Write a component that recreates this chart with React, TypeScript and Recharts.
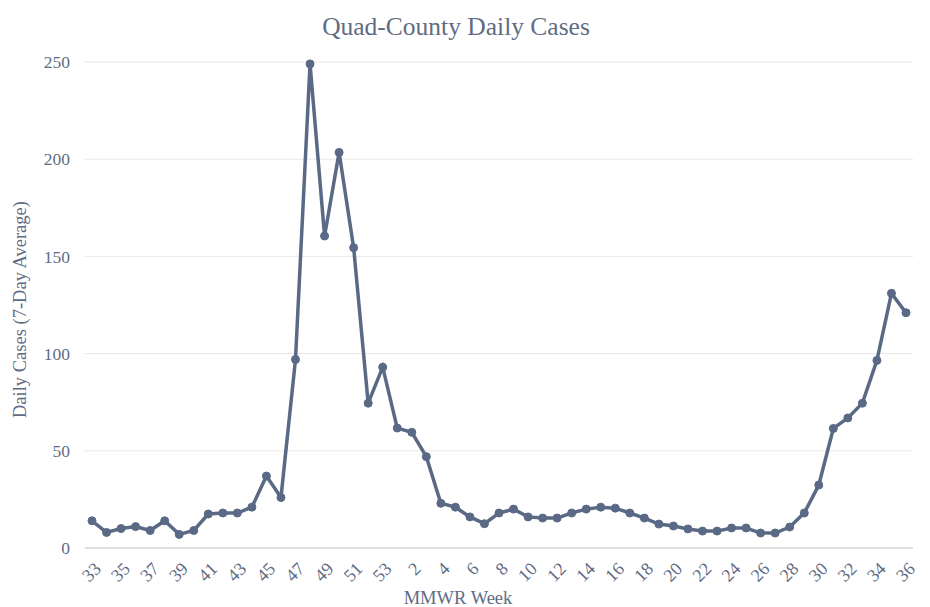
import React from 'react';
import { LineChart, Line, XAxis, YAxis, CartesianGrid } from 'recharts';

const weeks = [
  '33', '34', '35', '36', '37', '38', '39', '40', '41', '42', '43', '44', '45', '46', '47', '48', '49', '50', '51', '52', '53',
  '1', '2', '3', '4', '5', '6', '7', '8', '9', '10', '11', '12', '13', '14', '15', '16', '17', '18', '19', '20',
  '21', '22', '23', '24', '25', '26', '27', '28', '29', '30', '31', '32', '33', '34', '35', '36',
];

const cases = [
  14, 8, 10, 11, 9, 14, 7, 9, 17.5, 18, 18, 21, 37, 26, 97, 249, 160.5, 203.5, 154.5, 74.5, 93,
  61.7, 59.5, 47, 23, 21, 16, 12.5, 18, 20, 16, 15.4, 15.4, 18, 20, 21, 20.5, 18, 15.4, 12.3, 11.3,
  9.8, 8.7, 8.7, 10.3, 10.3, 7.7, 7.7, 10.8, 18, 32.4, 61.5, 66.9, 74.5, 96.5, 131, 121,
];

const yTicks = [0, 50, 100, 150, 200, 250];

const data = weeks.map((w, i) => ({ week: w, idx: i, cases: cases[i] }));

const FONT = '"Liberation Serif", "Times New Roman", serif';
const TEXT = '#5f6b84';
const LINE = '#5a6985';

const WeekTick = (props: any) => {
  const { x, y, payload } = props;
  const ax = x + 10;
  const ay = y + 8;
  return (
    <text
      x={ax}
      y={ay}
      transform={`rotate(-45, ${ax}, ${ay})`}
      textAnchor="end"
      fontSize={18}
      fontFamily={FONT}
      fill={TEXT}
    >
      {weeks[payload.value]}
    </text>
  );
};

export default function App() {
  return (
    <div style={{ position: 'relative', width: 914, height: 599, fontFamily: FONT }}>
      <div
        style={{
          position: 'absolute',
          top: 4,
          left: -9,
          width: 914,
          textAlign: 'center',
          fontSize: 25.5,
          color: TEXT,
          fontFamily: FONT,
        }}
      >
        Quad-County Daily Cases
      </div>
      <LineChart
        width={914}
        height={599}
        data={data}
        margin={{ top: 54, right: 9, bottom: 0, left: 0 }}
      >
        <CartesianGrid vertical={false} stroke="#e8e8e8" strokeWidth={1} />
        <XAxis
          dataKey="idx"
          type="category"
          interval={1}
          height={59}
          padding={{ left: 7, right: 7 }}
          tickLine={false}
          axisLine={{ stroke: '#d5d8dd', strokeWidth: 1.5 }}
          tick={<WeekTick />}
          tickSize={6}
          tickMargin={8}
          label={{
            value: 'MMWR Week',
            position: 'insideBottom',
            offset: 3,
            dx: -41,
            fontSize: 18.5,
            fontFamily: FONT,
            fill: TEXT,
          }}
        />
        <YAxis
          width={77}
          domain={[0, 250]}
          ticks={yTicks}
          tickLine={false}
          axisLine={false}
          tickSize={6}
          tickMargin={9}
          tick={{ fontSize: 17.5, fontFamily: FONT, fill: TEXT }}
          label={{
            value: 'Daily Cases (7-Day Average)',
            angle: -90,
            position: 'insideLeft',
            dx: 6,
            dy: 113,
            fontSize: 18.5,
            fontFamily: FONT,
            fill: TEXT,
          }}
        />
        <Line
          type="linear"
          dataKey="cases"
          stroke={LINE}
          strokeWidth={3.5}
          dot={{ r: 4, fill: LINE, stroke: LINE, strokeWidth: 1 }}
          activeDot={false}
          isAnimationActive={false}
        />
      </LineChart>
    </div>
  );
}
